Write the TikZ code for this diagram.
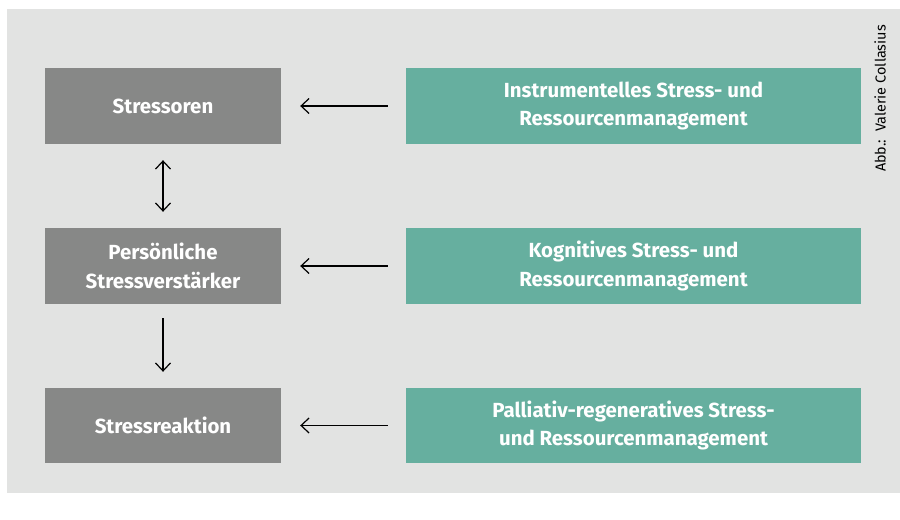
\documentclass[tikz,border=0pt]{standalone}
\usepackage{fontspec}
\setmainfont{Fira Sans}
\usepackage{tikz}
\usetikzlibrary{arrows.meta, positioning}
\definecolor{sbg}{RGB}{226,227,226}
\definecolor{sgray}{RGB}{135,136,135}
\definecolor{sgreen}{RGB}{102,175,159}

\begin{document}
\begin{tikzpicture}[x=1bp,y=-1bp,
    graybox/.style={fill=sgray,text=white,minimum width=236bp,minimum height=76bp,
        align=center,inner sep=0pt,font=\fontsize{20.5}{29}\selectfont\bfseries},
    greenbox/.style={fill=sgreen,text=white,minimum width=455bp,minimum height=76bp,
        align=center,inner sep=0pt,font=\fontsize{20.5}{29}\selectfont\bfseries},
    conn/.style={line width=1.2bp,-{Straight Barb[length=8bp,width=15bp]}}]
  \def\gx{163}
  \def\rx{633.5}
  % page and grey ground
  \useasboundingbox (0,0) rectangle (900,520);
  \fill[sbg] (7,9) rectangle (900,493);

  % left column
  \node[graybox] (stressoren) at (\gx,106) {Stressoren};
  \node[graybox] (verstaerker) at (\gx,266) {Persönliche\\Stressverstärker};
  \node[graybox,minimum height=75bp] (reaktion) at (\gx,425.5) {Stressreaktion};

  % right column
  \node[greenbox] (instr) at (\rx,106) {Instrumentelles Stress- und\\Ressourcenmanagement};
  \node[greenbox] (kogn) at (\rx,266) {Kognitives Stress- und\\Ressourcenmanagement};
  \node[greenbox,minimum height=75bp] (pall) at (\rx,425.5) {Palliativ-regeneratives Stress-\\und Ressourcenmanagement};

  % connectors
  \foreach \a/\b in {instr/stressoren, kogn/verstaerker, pall/reaktion}{
    \draw[conn,shorten <=18bp,shorten >=19bp] (\a.west) -- (\b.east);
  }
  \draw[line width=1.2bp,{Straight Barb[length=8bp,width=15bp]}-{Straight Barb[length=8bp,width=15bp]},
        shorten <=16bp,shorten >=16bp] (stressoren.south) -- (verstaerker.north);
  \draw[conn,shorten <=14bp,shorten >=16bp] (verstaerker.south) -- (reaktion.north);

  % credit
  \node[rotate=90,font=\fontsize{14.5}{16}\selectfont,inner sep=0pt] (credit) at (880,98.5) {Abb.:\ \ Valerie Collasius};
\end{tikzpicture}
\end{document}
